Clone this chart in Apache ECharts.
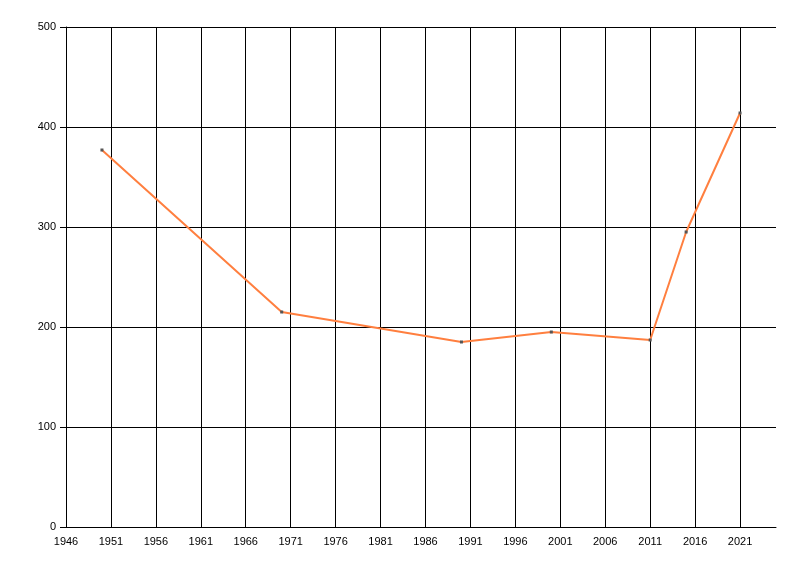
<!DOCTYPE html>
<html>
<head>
<meta charset="utf-8">
<script src="https://cdn.jsdelivr.net/npm/echarts@6/dist/echarts.min.js"></script>
<style>html,body{margin:0;padding:0;background:#fff;}#c{width:800px;height:576px;}</style>
</head>
<body>
<div id="c"></div>
<script>
const years = [1950, 1970, 1990, 2000, 2011, 2015, 2021];
const values = [377, 215, 185, 195, 187, 295, 414];
const xMin = 1946, xMax = 2025, xStep = 5;
const yMin = 0, yMax = 500, yStep = 100;

const chart = echarts.init(document.getElementById('c'), null, {renderer: 'canvas'});
chart.setOption({
  animation: false,
  backgroundColor: '#ffffff',
  grid: {left: 66, right: 24, top: 27, bottom: 49, containLabel: false},
  xAxis: {
    type: 'value', min: xMin, max: xMax, interval: xStep,
    axisLine: {show: true, onZero: false, lineStyle: {color: '#000', width: 1}},
    axisTick: {show: false},
    axisLabel: {showMaxLabel: false, formatter: v => String(v), color: '#000', fontFamily: 'Liberation Sans, Arial, sans-serif', fontSize: 11, margin: 9},
    splitLine: {show: true, showMaxLine: false, lineStyle: {color: '#000', width: 1}}
  },
  yAxis: {
    type: 'value', min: yMin, max: yMax, interval: yStep,
    axisLine: {show: true, lineStyle: {color: '#000', width: 1}},
    axisTick: {show: true, length: 6, lineStyle: {color: '#000'}},
    axisLabel: {formatter: v => String(v), color: '#000', fontFamily: 'Liberation Sans, Arial, sans-serif', fontSize: 11, margin: 10},
    splitLine: {show: true, lineStyle: {color: '#000', width: 1}}
  },
  series: [{
    type: 'line',
    data: years.map((y, i) => [y, values[i]]),
    symbol: 'rect', symbolSize: 3, showSymbol: true,
    itemStyle: {color: '#555'},
    lineStyle: {color: '#ff7f3f', width: 2},
    z: 3
  }]
});
</script>
</body>
</html>
